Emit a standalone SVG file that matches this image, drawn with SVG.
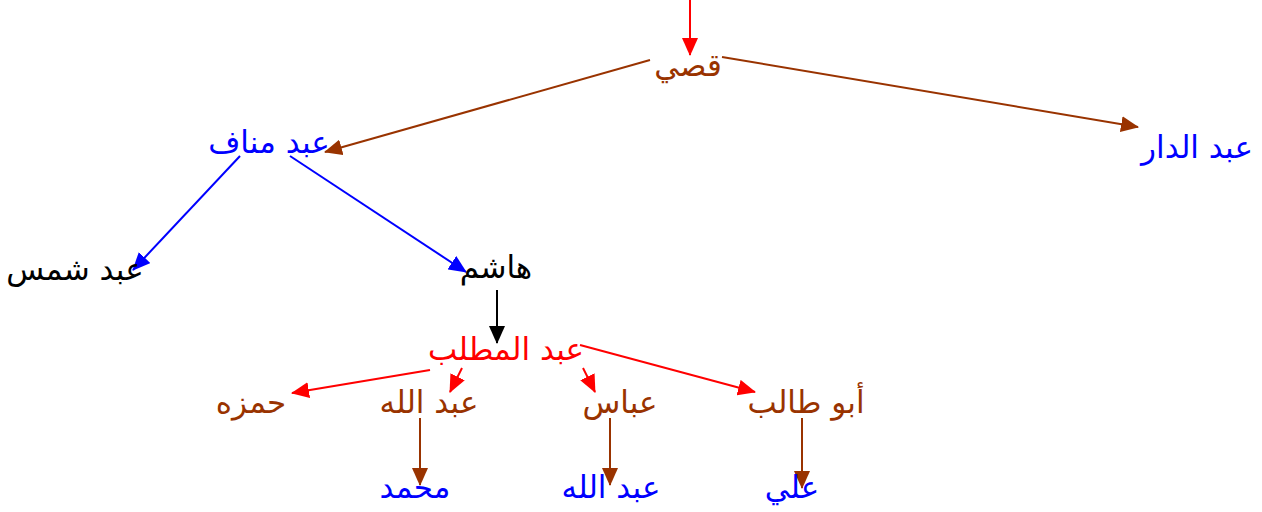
<svg xmlns="http://www.w3.org/2000/svg" width="1262" height="512" viewBox="0 0 1262 512">
<style>
text{font-family:"DejaVu Sans","Liberation Sans","Noto Sans",sans-serif;font-size:31px;text-anchor:middle;direction:rtl}
.br{fill:#993300}.bl{fill:#0000FF}.rd{fill:#FF0000}.bk{fill:#000000}
.c{stroke-width:2;fill:none}
</style>
<defs>
<marker id="aR" markerUnits="userSpaceOnUse" markerWidth="18" markerHeight="16" refX="17" refY="8" orient="auto"><path d="M0,0 L18,8 L0,16 Z" fill="#FF0000"/></marker>
<marker id="aB" markerUnits="userSpaceOnUse" markerWidth="18" markerHeight="16" refX="17" refY="8" orient="auto"><path d="M0,0 L18,8 L0,16 Z" fill="#993300"/></marker>
<marker id="aU" markerUnits="userSpaceOnUse" markerWidth="18" markerHeight="16" refX="17" refY="8" orient="auto"><path d="M0,0 L18,8 L0,16 Z" fill="#0000FF"/></marker>
<marker id="aK" markerUnits="userSpaceOnUse" markerWidth="18" markerHeight="16" refX="17" refY="8" orient="auto"><path d="M0,0 L18,8 L0,16 Z" fill="#000000"/></marker>
</defs>
<g id="connectors">
<line class="c" stroke="#FF0000" x1="690" y1="0" x2="690" y2="55" marker-end="url(#aR)"/>
<line class="c" stroke="#993300" x1="650" y1="60" x2="325" y2="152" marker-end="url(#aB)"/>
<line class="c" stroke="#993300" x1="722" y1="57" x2="1138" y2="127" marker-end="url(#aB)"/>
<line class="c" stroke="#0000FF" x1="240" y1="156" x2="133" y2="270" marker-end="url(#aU)"/>
<line class="c" stroke="#0000FF" x1="290" y1="156" x2="466" y2="272" marker-end="url(#aU)"/>
<line class="c" stroke="#000000" x1="497" y1="290" x2="497" y2="343" marker-end="url(#aK)"/>
<line class="c" stroke="#FF0000" x1="430" y1="370" x2="292" y2="393" marker-end="url(#aR)"/>
<line class="c" stroke="#FF0000" x1="462" y1="368" x2="450" y2="392" marker-end="url(#aR)"/>
<line class="c" stroke="#FF0000" x1="583" y1="368" x2="595" y2="392" marker-end="url(#aR)"/>
<line class="c" stroke="#FF0000" x1="580" y1="345" x2="755" y2="392" marker-end="url(#aR)"/>
<line class="c" stroke="#993300" x1="420" y1="418" x2="420" y2="485" marker-end="url(#aB)"/>
<line class="c" stroke="#993300" x1="610" y1="418" x2="610" y2="485" marker-end="url(#aB)"/>
<line class="c" stroke="#993300" x1="802" y1="418" x2="802" y2="488" marker-end="url(#aB)"/>
</g>
<g id="qusay"><text class="br" x="688" y="76">قصي</text></g>
<g id="abdmanaf"><text class="bl" x="269" y="153">عبد مناف</text></g>
<g id="abdaldar"><text class="bl" x="1197" y="158">عبد الدار</text></g>
<g id="abdshams"><text class="bk" x="75" y="280">عبد شمس</text></g>
<g id="hashim"><text class="bk" x="496" y="278">هاشم</text></g>
<g id="abdalmuttalib"><text class="rd" x="506" y="360">عبد المطلب</text></g>
<g id="hamza"><text class="br" x="251" y="413">حمزه</text></g>
<g id="abdallah1"><text class="br" x="429" y="413">عبد الله</text></g>
<g id="abbas"><text class="br" x="620" y="413">عباس</text></g>
<g id="abutalib"><text class="br" x="806" y="413">أبو طالب</text></g>
<g id="muhammad"><text class="bl" x="415" y="498">محمد</text></g>
<g id="abdallah2"><text class="bl" x="611" y="498">عبد الله</text></g>
<g id="ali"><text class="bl" x="792" y="498">علي</text></g>
</svg>
